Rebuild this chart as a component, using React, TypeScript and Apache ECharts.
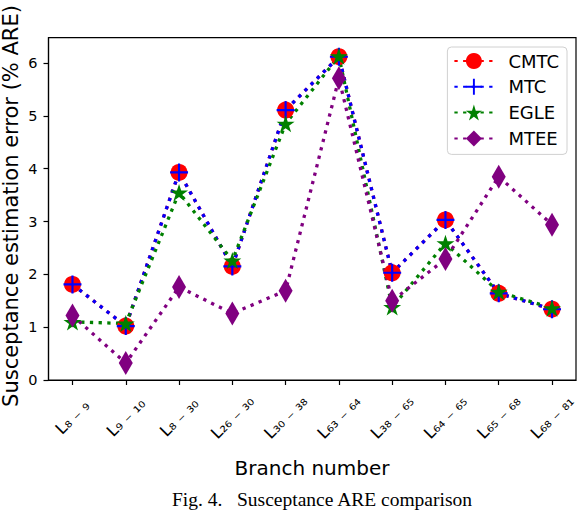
import React, { useEffect, useRef } from 'react';
import * as echarts from 'echarts';

// subscripts written with Unicode subscript digits / minus
const branchLabels = ['L₈ ₋ ₉', 'L₉ ₋ ₁₀', 'L₈ ₋ ₃₀', 'L₂₆ ₋ ₃₀', 'L₃₀ ₋ ₃₈', 'L₆₃ ₋ ₆₄', 'L₃₈ ₋ ₆₅', 'L₆₄ ₋ ₆₅', 'L₆₅ ₋ ₆₈', 'L₆₈ ₋ ₈₁'];
const yTicks = [0, 1, 2, 3, 4, 5, 6];

const cmtcValues = [1.81, 1.02, 3.93, 2.15, 5.11, 6.12, 2.03, 3.03, 1.64, 1.34];
const mtcValues = [1.81, 1.02, 3.93, 2.15, 5.11, 6.12, 2.03, 3.03, 1.64, 1.34];
const egleValues = [1.1, 1.07, 3.55, 2.26, 4.85, 6.13, 1.38, 2.59, 1.67, 1.36];
const mteeValues = [1.22, 0.32, 1.76, 1.26, 1.69, 5.71, 1.5, 2.29, 3.85, 2.94];

const FONT = 'DejaVu Sans';
const PLUS_PATH = 'path://M8.8,0h2.4v8.8h8.8v2.4h-8.8v8.8h-2.4v-8.8h-8.8v-2.4h8.8z';
const STAR_PATH =
  'path://M10,0L12.245,6.91L19.511,6.91L13.633,11.18L15.878,18.09L10,13.82L4.122,18.09L6.367,11.18L0.489,6.91L7.755,6.91Z';

const makeSeries = (
  name: string,
  values: number[],
  color: string,
  symbol: string,
  symbolSize: number | number[],
) => ({
  name,
  type: 'line' as const,
  data: values.map((v, i) => [i, v]),
  symbol,
  symbolSize,
  showAllSymbol: true,
  silent: true,
  itemStyle: { color, opacity: 1 },
  lineStyle: { color, width: 3.3, type: [3.3, 5.4], cap: 'butt' as const },
});

export default function App() {
  const chartRef = useRef<HTMLDivElement>(null);

  useEffect(() => {
    if (!chartRef.current) return;
    const chart = echarts.init(chartRef.current, undefined, { renderer: 'svg' });

    chart.setOption({
      animation: false,
      backgroundColor: '#fff',
      grid: {
        left: 48.5,
        right: 2,
        top: 37.7,
        bottom: 130,
        show: true,
        borderColor: '#000',
        borderWidth: 1.2,
        backgroundColor: 'transparent',
        outerBoundsMode: 'none',
      },
      legend: {
        orient: 'vertical',
        right: 11,
        top: 47,
        padding: [5, 8, 7, 6],
        itemWidth: 39,
        itemHeight: 20,
        itemGap: 7.8,
        backgroundColor: '#fff',
        borderColor: '#d0d0d0',
        borderWidth: 1,
        borderRadius: 4,
        textStyle: { fontFamily: FONT, fontSize: 18, color: '#000', padding: [0, 0, 0, 10] },
        data: ['CMTC', 'MTC', 'EGLE', 'MTEE'],
      },
      xAxis: {
        type: 'value',
        min: -0.45,
        max: 9.45,
        splitLine: { show: false },
        axisLine: { onZero: false, lineStyle: { color: '#000', width: 1.2 } },
        axisTick: {
          customValues: branchLabels.map((_, i) => i),
          length: 5,
          lineStyle: { color: '#000', width: 1.2 },
        },
        axisLabel: {
          customValues: branchLabels.map((_, i) => i),
          rotate: 45,
          margin: 37,
          align: 'center',
          verticalAlign: 'middle',
          hideOverlap: false,
          fontFamily: FONT,
          fontSize: 16,
          color: '#000',
          formatter: (v: number) => branchLabels[Math.round(v)],
        },
      },
      yAxis: {
        type: 'value',
        min: 0,
        max: 6.48,
        splitLine: { show: false },
        axisLine: { show: true, onZero: false, lineStyle: { color: '#000', width: 1.2 } },
        axisTick: {
          show: true,
          customValues: yTicks,
          length: 5,
          lineStyle: { color: '#000', width: 1.2 },
        },
        axisLabel: {
          customValues: yTicks,
          margin: 11,
          fontFamily: FONT,
          fontSize: 14.5,
          color: '#000',
        },
      },
      graphic: [
        {
          type: 'text',
          x: 10.5,
          y: 206,
          rotation: Math.PI / 2,
          style: {
            text: 'Susceptance estimation error (% ARE)',
            fontFamily: FONT,
            fontSize: 21,
            fill: '#000',
            align: 'center',
            verticalAlign: 'middle',
          },
        },
        {
          type: 'text',
          x: 312,
          y: 468,
          style: {
            text: 'Branch number',
            fontFamily: FONT,
            fontSize: 20,
            fill: '#000',
            align: 'center',
            verticalAlign: 'middle',
          },
        },
        {
          type: 'text',
          x: 322,
          y: 509,
          style: {
            text: 'Fig. 4.   Susceptance ARE comparison',
            fontFamily: 'Liberation Serif',
            fontSize: 19.5,
            fill: '#000',
            align: 'center',
            verticalAlign: 'bottom',
          },
        },
      ],
      series: [
        makeSeries('CMTC', cmtcValues, '#ff0000', 'circle', 17),
        makeSeries('MTC', mtcValues, '#0000ff', PLUS_PATH, 18),
        makeSeries('EGLE', egleValues, '#008000', STAR_PATH, [18, 17]),
        makeSeries('MTEE', mteeValues, '#800080', 'diamond', [14, 24]),
      ],
    });

    return () => {
      chart.dispose();
    };
  }, []);

  return (
    <div
      ref={chartRef}
      style={{ position: 'fixed', left: 0, top: 0, width: 578, height: 510, background: '#fff' }}
    />
  );
}
